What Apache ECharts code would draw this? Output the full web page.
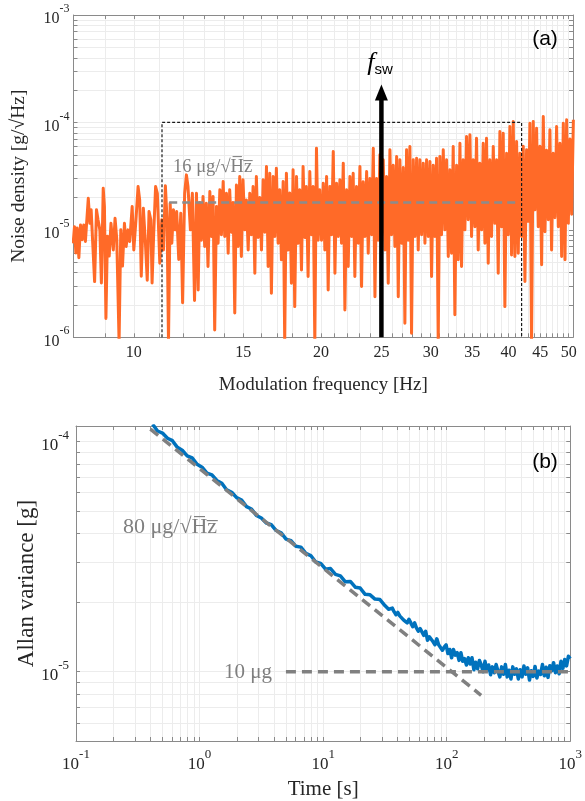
<!DOCTYPE html>
<html><head><meta charset="utf-8">
<script src="https://cdn.jsdelivr.net/npm/echarts@6/dist/echarts.min.js"></script>
<style>html,body{margin:0;padding:0;background:#fff}#c{width:585px;height:801px}</style>
</head><body><div id="c"></div>
<script>
// ---------- Panel (a): noise spectral density ----------
const spectrumFreqHz = [
7.99,8.03,8.07,8.11,8.16,8.21,8.26,8.31,8.36,8.45,8.50,8.54,8.59,8.65,8.71,8.76,8.82,8.87,8.93,8.97,9.02,9.07,9.13,9.19,9.27,9.33,9.39,9.47,9.53,9.59,9.66,9.72,9.79,9.85,9.94,10.0,10.08,10.16,10.22,10.28,10.36,10.44,10.51,10.58,10.65,10.70,10.76,10.84,10.91,11.01,11.09,11.16,11.24,11.31,11.37,11.44,11.51,11.58,11.65,11.72,11.81,11.90,11.98,12.07,12.15,12.22,12.33,12.42,12.52,
12.61,12.69,12.76,12.84,12.92,13.00,13.08,13.16,13.25,13.33,13.41,13.49,13.58,13.66,13.75,13.83,13.92,14.00,14.09,14.18,14.26,14.35,14.44,14.53,14.62,14.71,14.80,14.89,14.98,15.08,15.17,15.27,15.36,15.45,15.55,15.65,15.74,15.84,15.94,16.04,16.14,16.24,16.34,16.44,16.54,16.64,16.75,16.85,16.95,17.06,17.16,17.27,17.38,17.48,17.59,17.70,17.81,17.92,18.03,18.14,18.26,18.37,18.48,18.60,18.71,18.83,18.94,19.06,19.18,19.30,19.42,19.54,19.66,19.78,19.90,
20.03,20.16,20.28,20.41,20.53,20.66,20.79,20.92,21.05,21.18,21.31,21.44,21.57,21.71,21.84,21.98,22.11,22.25,22.39,22.52,22.66,22.80,22.95,23.09,23.23,23.37,23.52,23.67,23.81,23.96,24.11,24.26,24.41,24.56,24.71,24.86,25.01,25.17,25.33,25.48,25.64,25.80,25.96,26.12,26.28,26.45,26.61,26.77,26.94,27.11,27.27,27.44,27.61,27.78,27.95,28.13,28.30,28.48,28.65,28.83,29.01,29.19,29.37,29.55,29.73,29.92,30.10,30.29,30.47,30.66,30.85,31.04,31.23,31.43,31.62,31.82,32.02,
32.21,32.41,32.61,32.81,33.02,33.22,33.43,33.63,33.84,34.05,34.26,34.47,34.69,34.90,35.12,35.34,35.55,35.77,35.99,36.22,36.44,36.67,36.89,37.12,37.35,37.58,37.82,38.05,38.29,38.52,38.76,39.00,39.24,39.48,39.73,39.97,40.22,40.47,40.72,40.97,41.23,41.48,41.74,42.00,42.26,42.52,42.78,43.05,43.31,43.58,43.85,44.12,44.40,44.67,44.95,45.23,45.51,45.79,46.07,46.36,46.64,46.93,47.22,47.52,47.81,48.11,48.41,48.71,49.01,49.32,49.62,49.93,50.24,50.55,50.87];
// noise density in µg/√Hz
const spectrumUg = [
7.5,10.7,6.1,10.4,5.5,11.1,8.1,11.1,7.8,19.7,11.5,15.4,7.5,3.3,15.4,12.4,10,3.2,24.4,16.5,1.5,8.7,5.7,11.5,6.5,12.8,8.1,0.9,10,4.6,11.5,7.0,10,7.8,16.5,6.5,12.4,25.3,19.0,3.7,15.9,7.5,3.4,14.8,12.4,3.2,8.7,25.3,21.9,4.9,12.4,6.5,25.7,12.4,0.9,17.7,7.5,15.4,10,14.8,5.3,14.3,2.1,21.9,32.5,25.3,10,21.9,2.2,
21.9,2.76,18,8,20.4,7,17.7,4.56,22.7,8.67,20.4,1.17,16.5,7.5,23.6,9,28.2,8.67,21.9,6.06,23.6,9.5,18,1.68,26.2,7.0,31.4,5.65,29.2,10,19.0,6.5,21.9,9,25.3,3.95,31.4,8.5,20,6.5,29.2,9.5,38.9,4.56,33.7,2.57,31.4,8.67,37.5,7.5,23.6,5.26,28.2,0.9,33.7,6.5,22,3.19,36.2,1.93,31.4,7.52,23.6,4.24,38.9,8.5,25.3,3.68,34.9,9,25.3,0.9,57.6,8,23.6,
8,27.2,6.5,31.4,2.76,25.3,9,53.6,3.95,27.2,8.67,29.2,7.5,41.8,1.80,23.6,4.56,31.4,8.67,33.7,3.68,25.3,7.52,38.9,2.97,28,8.67,34.9,6.06,30,9,57.6,2.39,30,8,49.9,8.67,44.9,6.5,31.4,3.19,55.6,9,40,7,48.2,2.39,44.9,7.52,38,1.35,55.6,8,59.7,1.09,44.9,8.67,46.5,6.5,44.9,9,41.8,7.52,44.9,8.67,43.3,3.68,40,8.67,46.5,0.9,48.2,9,55.6,10,45,5.65,
36.2,6.06,59.7,1.62,40,5.26,64.1,4.56,45,10,74.0,12.4,76.6,8.67,44.9,10.7,71.4,6.5,41.8,10,64.1,7.52,71.4,4.9,45,8.67,59.7,11.5,44.9,3.95,82.3,10.7,79.4,1.93,51.7,9,91.6,5.85,102,5.65,66.4,6.06,51.7,8.67,60,3.30,55.6,12,98.4,0.9,102,15.35,88.4,10.7,60,4.73,113.6,9.6,55,12.4,85.3,6.5,51.7,13,91.6,10.7,64.1,5.65,98.4,5.26,105.7,11.5,70,14,105.7];
const whiteLevelUg = 18;            // grey dashed level labelled 16 µg/√Hz
const whiteLevelSpanHz = [11.4, 41.3];
const boxFreqHz = [11.1, 42.0];
const boxTopUg = 100;
const fswHz = 25;
const fswArrowUg = [1, 190];

const topXTicks = [8,9,10,11,12,13,14,15,16,17,18,19,20,21,22,23,24,25,26,27,28,29,30,31,32,33,34,35,36,37,38,39,40,41,42,43,44,45,46,47,48,49,50];
const topXLabels = [10,15,20,25,30,35,40,45,50];
const topYTicks = [1e-6,2e-6,3e-6,4e-6,5e-6,6e-6,7e-6,8e-6,9e-6,1e-5,2e-5,3e-5,4e-5,5e-5,6e-5,7e-5,8e-5,9e-5,1e-4,2e-4,3e-4,4e-4,5e-4,6e-4,7e-4,8e-4,9e-4,1e-3];
const topYLabels = [1e-6,1e-5,1e-4,1e-3];

// ---------- Panel (b): Allan deviation ----------
const allanTimeS = [
0.417,0.457,0.501,0.550,0.603,0.661,0.724,0.794,0.871,0.955,1.047,1.148,1.259,1.380,1.514,1.660,1.820,1.995,2.188,2.399,2.630,2.884,3.162,3.467,3.802,4.169,4.571,5.012,5.495,6.026,6.607,7.244,7.943,8.710,9.550,10.47,11.48,12.59,13.80,15.14,16.60,18.20,19.95,21.88,23.99,26.30,28.84,31.62,
32.7,33.9,35.1,36.3,37.6,38.9,40.3,41.7,43.2,44.7,46.2,47.9,49.5,51.3,53.1,55.0,56.9,58.9,61.0,63.1,65.3,67.6,70.0,72.4,75.0,77.6,80.4,83.2,86.1,89.1,92.3,95.5,98.9,102.3,105.9,109.6,113.5,117.5,121.6,125.9,130.3,134.9,139.6,144.5,149.6,154.9,160.3,166.0,171.8,177.8,184.1,190.5,197.2,204.2,211.3,218.8,226.5,234.4,242.7,251.2,260.0,269.2,278.6,288.4,298.5,309.0,319.9,331.1,342.8,354.8,367.3,380.2,393.6,407.4,421.7,436.5,451.9,467.7,484.2,501.2,518.8,537.0,555.9,575.4,595.7,616.6,638.3,660.7,683.9,707.9,732.8,758.6,785.2,812.8,841.4,871.0,901.6,933.3,966.1,1000];
// Allan deviation in µg
const allanUg = [
119,111.3,109,103.5,101,94.5,91.8,86.8,85,79.8,77.5,73,71.7,67.8,66,61.7,60.3,57.1,55.7,52.2,51,47.8,46.6,44.3,43.6,41.1,40.2,37.7,37.1,35.1,34.8,32.7,32,30,29.6,27.9,28.1,26.5,26.1,24.6,24.7,23.3,23.1,21.7,21.6,20.7,20.6,19.4,
19.5,18.7,18.9,18.9,18.2,17.7,18.1,17.5,17.8,16.8,17.0,16.3,16.9,16.3,15.7,16.3,15.5,15.0,15.4,15.1,14.4,15.0,13.7,14.2,14.3,13.5,13.1,13.9,13.1,13.3,12.4,12.8,13.1,12.0,12.5,11.5,12.5,11.8,12.1,11.2,12.1,11.1,11.4,10.7,11.5,10.8,11.5,10.2,11.0,10.3,11.2,10.7,10.0,11.1,10.15,10.7,9.7,10.5,9.9,10.75,10.05,9.5,10.5,9.75,10.75,9.5,10.15,9.3,10.5,9.75,10.3,9.3,10.2,9.5,10.6,9.75,10.4,9.2,10.1,9.55,10.55,9.4,10.06,9.74,10.75,9.6,10.46,9.45,10.63,10.1,10.95,9.9,10.6,9.8,11.1,10.34,11.3,10.6,11.67,11.4];
const whiteFitTimeS = [0.4, 190];
const whiteFitUg = [113.5, 7.9];
const biasFitTimeS = [5, 1000];
const biasFitUg = [10, 10];

const botXTicks = [0.1,0.2,0.3,0.4,0.5,0.6,0.7,0.8,0.9,1,2,3,4,5,6,7,8,9,10,20,30,40,50,60,70,80,90,100,200,300,400,500,600,700,800,900,1000];
const botXLabels = [0.1,1,10,100,1000];
const botYTicks = [5e-6,6e-6,7e-6,8e-6,9e-6,1e-5,2e-5,3e-5,4e-5,5e-5,6e-5,7e-5,8e-5,9e-5,1e-4];
const botYLabels = [1e-5,1e-4];

// ---------- styling ----------
const serif = '"Liberation Serif","DejaVu Serif",serif';
const sans = '"Liberation Sans","DejaVu Sans",sans-serif';
const axisGrey = '#8a8a8a';
const gridGrey = '#ececec';
const textDark = '#262626';
const noteGrey = '#7f7f7f';
const UG = 1e-6;

function supFmt(v){ const e = Math.round(Math.log10(v)); return '{b|10}{e|' + e + '}'; }
function supRich(fs){
  return {
    b:{fontSize:fs, fontFamily:serif, color:textDark, lineHeight:fs+8, verticalAlign:'bottom'},
    e:{fontSize:Math.round(fs*0.74), fontFamily:serif, color:textDark, lineHeight:Math.round(fs*0.76), verticalAlign:'top'}
  };
}
function mainAxis(o){
  return Object.assign({
    type:'log', logBase:10,
    axisLine:{show:true, onZero:false, lineStyle:{color:axisGrey, width:1}},
    axisTick:{show:true, inside:true, length:4, customValues:o.ticks, lineStyle:{color:axisGrey}},
    splitLine:{show:true, lineStyle:{color:gridGrey, width:1}},
    minorTick:{show:false}, minorSplitLine:{show:false}
  }, o.extra);
}
function mirrorAxis(o){
  return Object.assign({
    type:'log', logBase:10,
    axisLine:{show:true, onZero:false, lineStyle:{color:axisGrey, width:1}},
    axisTick:{show:true, inside:true, length:4, customValues:o.ticks, lineStyle:{color:axisGrey}},
    axisLabel:{show:false}, splitLine:{show:false}
  }, o.extra);
}

const spectrumData = spectrumFreqHz.map((f,i)=>[f, spectrumUg[i]*UG]);
const allanData = allanTimeS.map((t,i)=>[t, allanUg[i]*UG]);

const option = {
  backgroundColor:'#ffffff',
  animation:false,
  grid:[
    {left:73.5, top:15, width:499.5, height:322.3, containLabel:false},
    {left:76, top:426, width:500.5, height:315, containLabel:false}
  ],
  xAxis:[
    mainAxis({ticks:topXTicks, extra:{gridIndex:0, position:'bottom', min:8, max:50.8,
      axisLabel:{customValues:topXLabels, formatter:v=>String(Math.round(v)), fontFamily:serif, fontSize:16, color:textDark, margin:7},
      name:'Modulation frequency [Hz]', nameLocation:'middle', nameGap:38,
      nameTextStyle:{fontFamily:serif, fontSize:19, color:textDark}}}),
    mirrorAxis({ticks:topXTicks, extra:{gridIndex:0, position:'top', min:8, max:50.8}}),
    mainAxis({ticks:botXTicks, extra:{gridIndex:1, position:'bottom', min:0.1, max:1000,
      axisLabel:{customValues:botXLabels, formatter:supFmt, rich:supRich(17), margin:7},
      name:'Time [s]', nameLocation:'middle', nameGap:38,
      nameTextStyle:{fontFamily:serif, fontSize:21, color:textDark}}}),
    mirrorAxis({ticks:botXTicks, extra:{gridIndex:1, position:'top', min:0.1, max:1000}})
  ],
  yAxis:[
    mainAxis({ticks:topYTicks, extra:{gridIndex:0, position:'left', min:1e-6, max:1e-3,
      axisLabel:{customValues:topYLabels, formatter:supFmt, rich:supRich(16), margin:4},
      name:'Noise density [g/\u221AHz]', nameLocation:'middle', nameGap:45, nameRotate:90, nameMoveOverlap:false,
      nameTextStyle:{fontFamily:serif, fontSize:19.5, color:textDark}}}),
    mirrorAxis({ticks:topYTicks, extra:{gridIndex:0, position:'right', min:1e-6, max:1e-3}}),
    mainAxis({ticks:botYTicks, extra:{gridIndex:1, position:'left', min:5e-6, max:1.17e-4,
      axisLabel:{customValues:botYLabels, formatter:supFmt, rich:supRich(17), margin:7},
      name:'Allan variance [g]', nameLocation:'middle', nameGap:38, nameRotate:90, nameMoveOverlap:false,
      nameTextStyle:{fontFamily:serif, fontSize:23, color:textDark}}}),
    mirrorAxis({ticks:botYTicks, extra:{gridIndex:1, position:'right', min:5e-6, max:1.17e-4}})
  ],
  series:[
    {type:'line', xAxisIndex:0, yAxisIndex:0, data:spectrumData, showSymbol:false, symbol:'none',
      lineStyle:{color:'#ff6a28', width:3, join:'round'}, z:2, clip:true},
    {type:'line', xAxisIndex:0, yAxisIndex:0, symbol:'none', z:4,
      data:[[boxFreqHz[0],1*UG],[boxFreqHz[0],boxTopUg*UG],[boxFreqHz[1],boxTopUg*UG],[boxFreqHz[1],1*UG]],
      lineStyle:{color:'#1a1a1a', width:1.2, type:[3,2]}},
    {type:'line', xAxisIndex:0, yAxisIndex:0, symbol:'none', z:5,
      data:[[whiteLevelSpanHz[0],whiteLevelUg*UG],[whiteLevelSpanHz[1],whiteLevelUg*UG]],
      lineStyle:{color:'#8c8c8c', width:2.5, type:[8,5]}},
    {type:'line', xAxisIndex:0, yAxisIndex:0, z:6, showSymbol:true,
      data:[{value:[fswHz,fswArrowUg[0]*UG], symbol:'none'},
            {value:[fswHz,fswArrowUg[1]*UG], symbol:'triangle', symbolSize:[13,16]}],
      itemStyle:{color:'#000'}, lineStyle:{color:'#000', width:4.5}},
    {type:'line', xAxisIndex:2, yAxisIndex:2, data:allanData, showSymbol:false, symbol:'none',
      lineStyle:{color:'#0072bd', width:3.5, join:'round'}, z:2, clip:true},
    {type:'line', xAxisIndex:2, yAxisIndex:2, symbol:'none', z:5,
      data:[[whiteFitTimeS[0],whiteFitUg[0]*UG],[whiteFitTimeS[1],whiteFitUg[1]*UG]],
      lineStyle:{color:'#808080', width:3.5, type:[10,6]}},
    {type:'line', xAxisIndex:2, yAxisIndex:2, symbol:'none', z:5,
      data:[[biasFitTimeS[0],biasFitUg[0]*UG],[biasFitTimeS[1],biasFitUg[1]*UG]],
      lineStyle:{color:'#808080', width:3.5, type:[10,6]}}
  ],
  graphic:[
    {type:'text', x:545, y:39, z:10, style:{text:'(a)', font:'21px '+sans, fill:'#000', align:'center', verticalAlign:'middle'}},
    {type:'text', x:545, y:462, z:10, style:{text:'(b)', font:'21px '+sans, fill:'#000', align:'center', verticalAlign:'middle'}},
    {type:'text', x:380, y:63, z:10, style:{text:'{f|f}{s|sw}', align:'center', verticalAlign:'middle',
      rich:{f:{font:'italic 26px '+serif, fill:'#000', verticalAlign:'middle', lineHeight:28},
            s:{font:'15px '+sans, fill:'#000', verticalAlign:'bottom', lineHeight:14}}}},
    {type:'text', x:173, y:167, z:10, style:{text:'16 \u03BCg/\u221AH\u0305z\u0305', font:'18.5px '+serif, fill:noteGrey, align:'left', verticalAlign:'middle'}},
    {type:'text', x:123, y:527, z:10, style:{text:'80 \u03BCg/\u221AH\u0305z\u0305', font:'22px '+serif, fill:noteGrey, align:'left', verticalAlign:'middle'}},
    {type:'text', x:224, y:672, z:10, style:{text:'10 \u03BCg', font:'21px '+serif, fill:noteGrey, align:'left', verticalAlign:'middle'}}
  ]
};
const chart = echarts.init(document.getElementById('c'), null, {renderer:'canvas'});
chart.setOption(option);
</script>
</body></html>
